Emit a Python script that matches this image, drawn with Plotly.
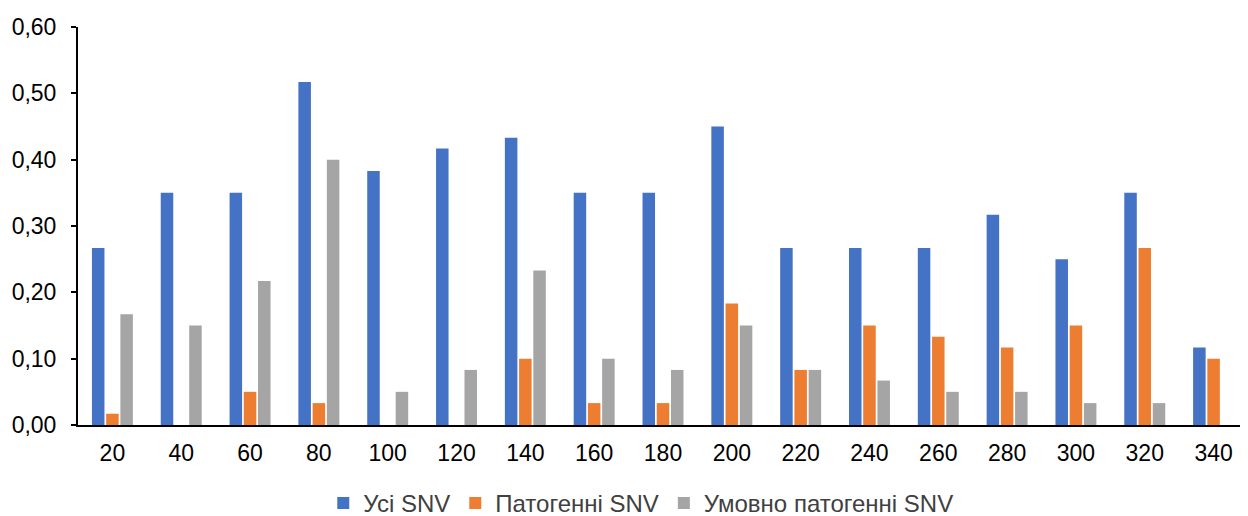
import plotly.graph_objects as go

categories = ["20", "40", "60", "80", "100", "120", "140", "160", "180", "200",
              "220", "240", "260", "280", "300", "320", "340"]
all_snv = [0.267, 0.35, 0.35, 0.517, 0.383, 0.417, 0.433, 0.35, 0.35, 0.45,
           0.267, 0.267, 0.267, 0.317, 0.25, 0.35, 0.117]
pathogenic = [0.017, 0.0, 0.05, 0.033, 0.0, 0.0, 0.1, 0.033, 0.033, 0.183,
              0.083, 0.15, 0.133, 0.117, 0.15, 0.267, 0.1]
likely_pathogenic = [0.167, 0.15, 0.217, 0.4, 0.05, 0.083, 0.233, 0.1, 0.083, 0.15,
                     0.083, 0.067, 0.05, 0.05, 0.033, 0.033, 0.0]
series_names = ["Усі SNV", "Патогенні SNV", "Умовно патогенні SNV"]
colors = ["#4472C4", "#ED7D31", "#A5A5A5"]

fig = go.Figure()
for name, vals, col in zip(series_names, [all_snv, pathogenic, likely_pathogenic], colors):
    fig.add_trace(go.Bar(x=categories, y=vals, name=name,
                         marker=dict(color=col, line=dict(width=0))))

font_family = "Liberation Sans, Arial, sans-serif"
# page body has an 8px default margin, so the figure is shrunk by 8px
fig.update_layout(
    width=1240, height=508,
    margin=dict(l=70, r=0, t=19, b=91, autoexpand=False),
    paper_bgcolor="white", plot_bgcolor="white",
    barmode="group", bargap=0.38, bargroupgap=0.12,
    separators=",.",
    font=dict(family=font_family, size=24, color="#000000"),
    showlegend=True,
    legend=dict(orientation="h", x=0.481, xanchor="center", y=-0.197, yanchor="middle",
                font=dict(size=24, color="#404040"), itemwidth=30,
                traceorder="normal"),
)
fig.update_xaxes(type="category", showgrid=False, showline=True, linecolor="#000000",
                 linewidth=2, ticks="", ticklabelstandoff=6,
                 tickfont=dict(size=23, color="#000000"))
fig.update_yaxes(range=[0, 0.6], dtick=0.1, tickformat=".2f", showgrid=False,
                 showline=True, linecolor="#000000", linewidth=2, ticks="outside",
                 ticklen=5, tickcolor="#000000", tickwidth=2, zeroline=False,
                 ticklabelstandoff=10,
                 tickfont=dict(size=23, color="#000000"))

fig.write_html("out.html")
